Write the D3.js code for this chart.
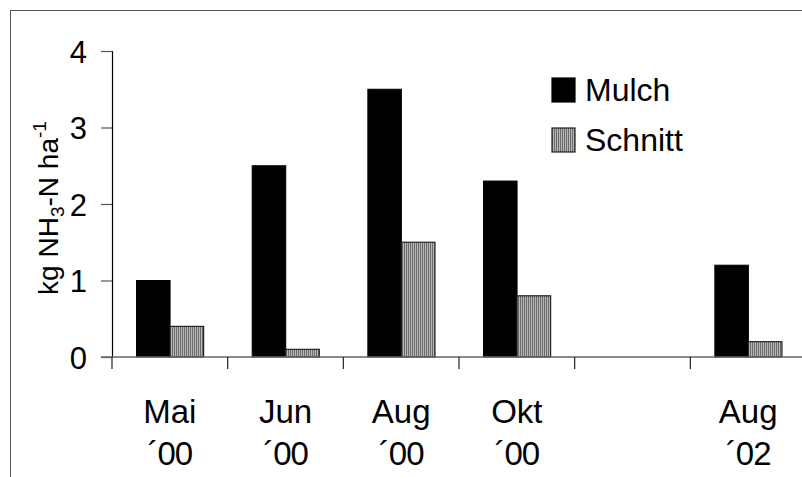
<!DOCTYPE html>
<html><head><meta charset="utf-8">
<script src="https://cdn.jsdelivr.net/npm/d3@7"></script>
<style>
html,body{margin:0;padding:0;background:#fff;}
svg{display:block;font-family:"Liberation Sans",Arial,sans-serif;}
</style></head>
<body>
<svg id="chart" width="802" height="477"></svg>
<script>
const categories = ["Mai|´00", "Jun|´00", "Aug|´00", "Okt|´00", "", "Aug|´02"];
const mulch = [1.0, 2.5, 3.5, 2.3, null, 1.2];
const schnitt = [0.4, 0.1, 1.5, 0.8, null, 0.2];
const seriesNames = ["Mulch", "Schnitt"];
const yTicks = [0, 1, 2, 3, 4];

const svg = d3.select("#chart");
const defs = svg.append("defs");
const pat = defs.append("pattern").attr("id","stripes").attr("patternUnits","userSpaceOnUse")
  .attr("width",2).attr("height",4);
pat.append("rect").attr("width",2).attr("height",4).attr("fill","#b8b8b8");
pat.append("rect").attr("width",1).attr("height",4).attr("fill","#6a6a6a");

// outer frame
svg.append("rect").attr("x",10.5).attr("y",10.5).attr("width",900).attr("height",900)
  .attr("fill","none").attr("stroke","#555").attr("stroke-width",1);

const x0 = 112, x1 = 806, yTop = 51, yBot = 357;
const x = d3.scaleBand().domain(d3.range(categories.length)).range([x0, x1]).paddingInner(0).paddingOuter(0);
const y = d3.scaleLinear().domain([0,4]).range([yBot, yTop]);
const bw = x.bandwidth();
const off = bw * 0.212, barW = bw * 0.29;

// bars
const g = svg.append("g");
categories.forEach((c,i)=>{
  if (mulch[i] != null) {
    g.append("rect").attr("x", x(i)+off).attr("y", y(mulch[i])).attr("width", barW)
      .attr("height", y(0)-y(mulch[i])).attr("fill","#000").attr("stroke","#000").attr("stroke-width",1);
  }
  if (schnitt[i] != null) {
    g.append("rect").attr("x", x(i)+off+barW).attr("y", y(schnitt[i])).attr("width", barW)
      .attr("height", y(0)-y(schnitt[i])).attr("fill","url(#stripes)").attr("stroke","#222").attr("stroke-width",1.2);
  }
});

// y axis
const yAxis = d3.axisLeft(y).tickValues(yTicks).tickSize(11).tickPadding(14).tickFormat(d3.format("d"));
const ya = svg.append("g").attr("transform",`translate(${x0},0)`).call(yAxis);
ya.select(".domain").attr("stroke","#000").attr("stroke-width",1.2);
ya.selectAll(".tick line").attr("stroke","#555").attr("stroke-width",1.2);
ya.selectAll(".tick text").attr("font-size",31).attr("fill","#000")
  .attr("font-family","'Liberation Sans',Arial,sans-serif").attr("dy","0.36em");

// x axis baseline
svg.append("line").attr("x1",x0-11).attr("x2",802).attr("y1",yBot).attr("y2",yBot)
  .attr("stroke","#666").attr("stroke-width",1.5);
// x tick marks at category boundaries
svg.append("g").selectAll("line").data(d3.range(categories.length)).join("line")
  .attr("x1",d=>x(d)).attr("x2",d=>x(d)).attr("y1",yBot).attr("y2",yBot+12)
  .attr("stroke","#222").attr("stroke-width",1.2);
// x labels
categories.forEach((c,i)=>{
  if (!c) return;
  const parts = c.split("|");
  const cx = x(i) + bw/2;
  svg.append("text").attr("x",cx).attr("y",423).attr("text-anchor","middle")
    .attr("font-size",33).text(parts[0]);
  svg.append("text").attr("x",cx).attr("y",465).attr("text-anchor","middle")
    .attr("font-size",33).attr("letter-spacing",-1).text(parts[1]);
});

// y title
const yt = svg.append("text").attr("transform","translate(58,208) rotate(-90)")
  .attr("text-anchor","middle").attr("font-size",28);
yt.append("tspan").text("kg NH");
yt.append("tspan").attr("font-size",19).attr("dy",6).text("3");
yt.append("tspan").attr("dy",-6).text("-N ha");
yt.append("tspan").attr("font-size",19).attr("dy",-12).text("-1");

// legend
const leg = svg.append("g");
const fills = ["#000","url(#stripes)"];
seriesNames.forEach((n,i)=>{
  leg.append("rect").attr("x",552).attr("y",78+50*i).attr("width",23).attr("height",24)
    .attr("fill",fills[i]).attr("stroke",i?"#222":"#000").attr("stroke-width",1.2);
  leg.append("text").attr("x",585).attr("y",101+50*i).attr("font-size",32).text(n);
});
</script>
</body></html>
